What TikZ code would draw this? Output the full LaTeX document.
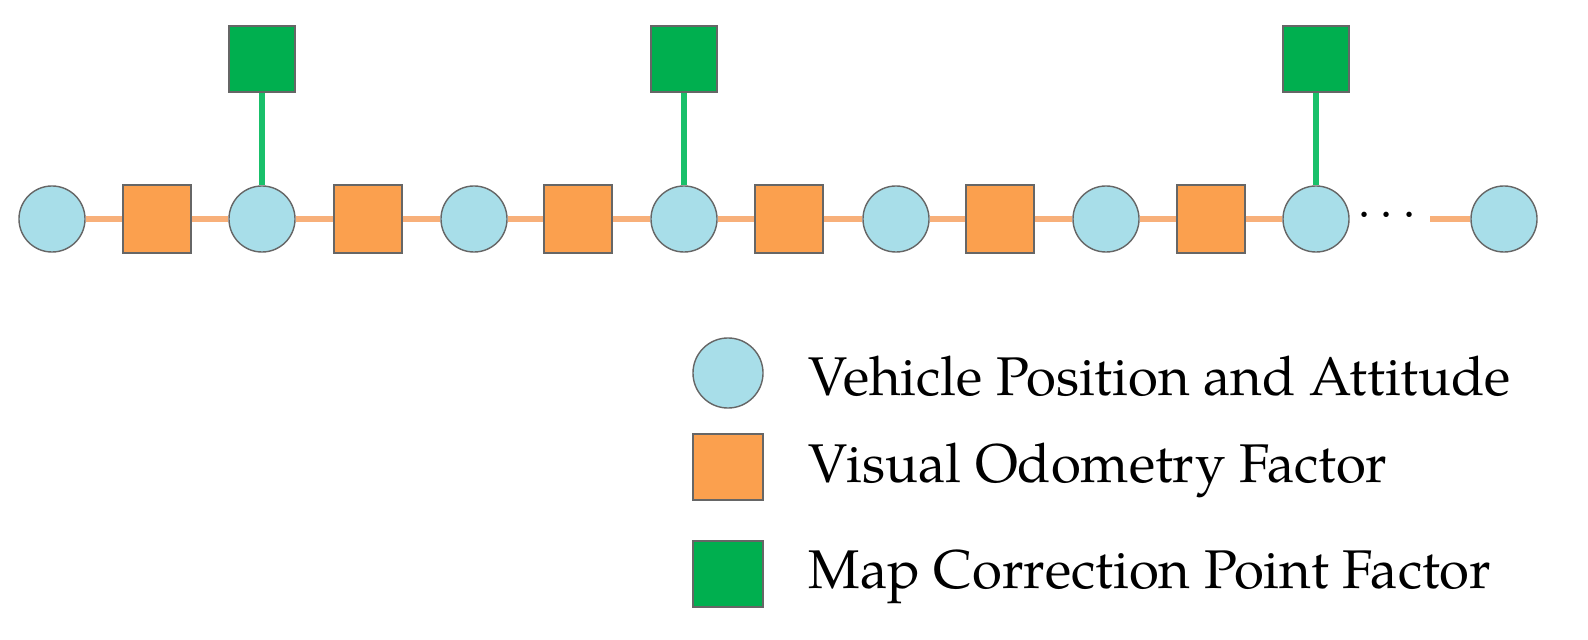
\documentclass[tikz,border=0pt]{standalone}
\usepackage{fontspec}
\setmainfont{TeX Gyre Pagella}
\begin{document}
\begin{tikzpicture}[x=0.01cm,y=-0.01cm]
\definecolor{cblue}{HTML}{A8DEE9}
\definecolor{corange}{HTML}{FBA04E}
\definecolor{cgreen}{HTML}{00AF4F}
\definecolor{lorange}{HTML}{F8B07A}
\definecolor{lgreen}{HTML}{19C06A}
\tikzset{
 var/.style={circle,draw=black!60,fill=cblue,minimum size=0.66cm,inner sep=0},
 odo/.style={rectangle,draw=black!60,fill=corange,minimum width=0.68cm,minimum height=0.68cm,inner sep=0},
 mapf/.style={rectangle,draw=black!60,fill=cgreen,minimum width=0.66cm,minimum height=0.66cm,inner sep=0},
 olink/.style={lorange,line width=1.6pt},
 glink/.style={lgreen,line width=1.6pt},
 lab/.style={anchor=west,font=\fontsize{15.5pt}{18pt}\selectfont,inner sep=0}
}
\useasboundingbox (0,0) rectangle (1588,640);
\foreach \i/\x in {1/52,2/262,3/474,4/684,5/896,6/1106,7/1316,8/1504}
  \node[var] (v\i) at (\x,219) {};
\foreach \i/\x in {1/157,2/368,3/578,4/789,5/1000,6/1211}
  \node[odo] (o\i) at (\x,219) {};
\node[mapf] (m1) at (262,59) {};
\node[mapf] (m2) at (684,59) {};
\node[mapf] (m3) at (1316,59) {};
\node (dots) at (1387,216) {\fontsize{14pt}{14pt}\selectfont $\cdots$};
\coordinate (e) at (1430,219);
\foreach \a/\b in {v1/o1,o1/v2,v2/o2,o2/v3,v3/o3,o3/v4,v4/o4,o4/v5,v5/o5,o5/v6,v6/o6,o6/v7}
  \draw[olink] (\a) -- (\b);
\draw[olink] (e) -- (v8);
\draw[glink] (m1) -- (v2);
\draw[glink] (m2) -- (v4);
\draw[glink] (m3) -- (v7);
\node[var,minimum size=0.7cm] (l1) at (728,373) {};
\node[odo,minimum width=0.7cm,minimum height=0.66cm] (l2) at (728,467) {};
\node[mapf,minimum width=0.7cm,minimum height=0.66cm] (l3) at (728,574) {};
\node[lab] (t1) at (808,376) {Vehicle Position and Attitude};
\node[lab] (t2) at (808,470) {Visual Odometry Factor};
\node[lab] (t3) at (808,577) {Map Correction Point Factor};
\end{tikzpicture}
\end{document}
